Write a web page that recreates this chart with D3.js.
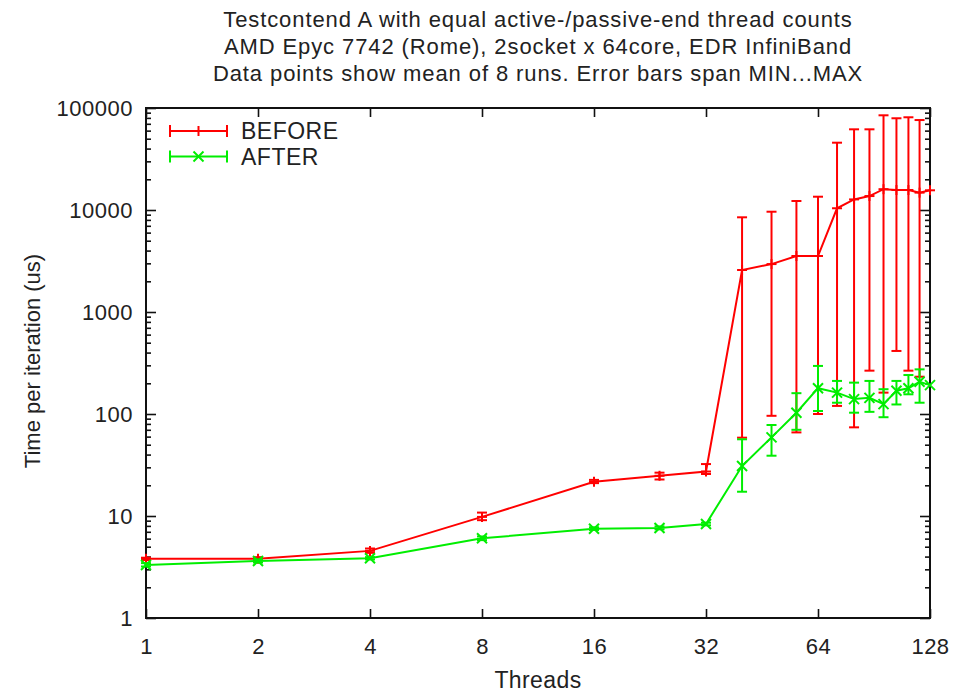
<!DOCTYPE html>
<html>
<head>
<meta charset="utf-8">
<script src="https://cdn.jsdelivr.net/npm/d3@7"></script>
<style>
  html, body { margin: 0; padding: 0; background: #fff; }
  svg text { font-family: "Liberation Sans", Arial, sans-serif; fill: #222; }
</style>
</head>
<body>
<svg id="chart" width="962" height="693"></svg>
<script>
// thread counts on the x axis
const threads = [1, 2, 4, 8, 16, 24, 32, 40, 48, 56, 64, 72, 80, 88, 96, 104, 112, 120, 128];

// BEFORE: mean, min, max (us)
const beforeMean = [3.8, 3.8, 4.55, 9.8, 21.7, 24.8, 27.3, 2580, 2950, 3540, 3540, 10400, 12700, 13700, 16000, 15700, 15700, 14800, 15600];
const beforeMin  = [3.7, 3.7, 4.35, 9.1, 21.0, 22.8, 25.8, 58.6, 96, 66, 100, 120, 74, 266, 162, 415, 266, 232, null];
const beforeMax  = [3.9, 3.95, 4.8, 10.8, 22.6, 26.6, 32.3, 8480, 9620, 12250, 13500, 45700, 61800, 61800, 84800, 79300, 81100, 76200, null];

// AFTER: mean, min, max (us)
const afterMean = [3.31, 3.62, 3.85, 6.05, 7.5, 7.63, 8.35, 30.9, 59, 103, 179, 162, 140, 144, 125, 169, 179, 207, 192];
const afterMin  = [3.2, 3.5, 3.75, 5.8, 7.3, 7.4, 8.1, 17.3, 39, 70, 107, 129, 103, 105, 93, 124, 156, 129, null];
const afterMax  = [3.45, 3.75, 3.95, 6.3, 7.75, 7.9, 8.6, 56.5, 78, 160, 296, 211, 203, 211, 175, 211, 241, 274, null];

const titleLines = [
  "Testcontend A with equal active-/passive-end thread counts",
  "AMD Epyc 7742 (Rome), 2socket x 64core, EDR InfiniBand",
  "Data points show mean of 8 runs. Error bars span MIN...MAX"
];
const xTicks = [1, 2, 4, 8, 16, 32, 64, 128];
const yTicks = [1, 10, 100, 1000, 10000, 100000];

const svg = d3.select("#chart");
const plotL = 146, plotR = 930, plotT = 108, plotB = 618;

const x = d3.scaleLog().base(2).domain([1, 128]).range([plotL, plotR]);
const y = d3.scaleLog().domain([1, 100000]).range([plotB, plotT]);

// minor ticks on the log y axis
const yMinor = [];
for (let e = 0; e < 5; e++) {
  for (let m = 2; m <= 9; m++) yMinor.push(m * Math.pow(10, e));
}

// title
svg.append("g").selectAll("text").data(titleLines).join("text")
  .attr("x", 538).attr("y", (d, i) => 27 + i * 27)
  .attr("text-anchor", "middle").attr("font-size", 22)
  .attr("letter-spacing", 0.9)
  .text(d => d);

// axes (ticks inward, mirrored)
function styleAxis(g) {
  g.selectAll("path.domain").remove();
  g.selectAll("line").attr("stroke", "#111").attr("stroke-width", 1.6);
  g.selectAll("text").attr("font-size", 22).attr("letter-spacing", 0.5).attr("fill", "#222")
    .style("font-family", "Liberation Sans, Arial, sans-serif");
}

svg.append("g").attr("transform", `translate(0,${plotB})`)
  .call(d3.axisBottom(x).tickValues(xTicks).tickFormat(d3.format("d")).tickSizeInner(-9).tickSizeOuter(0).tickPadding(20))
  .call(styleAxis);
svg.append("g").attr("transform", `translate(0,${plotT})`)
  .call(d3.axisTop(x).tickValues(xTicks).tickFormat("").tickSizeInner(-9).tickSizeOuter(0))
  .call(styleAxis);
svg.append("g").attr("transform", `translate(${plotL},0)`)
  .call(d3.axisLeft(y).tickValues(yTicks).tickFormat(d3.format("d")).tickSizeInner(-10).tickSizeOuter(0).tickPadding(13))
  .call(styleAxis);
svg.append("g").attr("transform", `translate(${plotL},0)`)
  .call(d3.axisLeft(y).tickValues(yMinor).tickFormat("").tickSizeInner(-5).tickSizeOuter(0))
  .call(styleAxis);
svg.append("g").attr("transform", `translate(${plotR},0)`)
  .call(d3.axisRight(y).tickValues(yTicks).tickFormat("").tickSizeInner(-10).tickSizeOuter(0))
  .call(styleAxis);
svg.append("g").attr("transform", `translate(${plotR},0)`)
  .call(d3.axisRight(y).tickValues(yMinor).tickFormat("").tickSizeInner(-5).tickSizeOuter(0))
  .call(styleAxis);

// frame
svg.append("rect").attr("x", plotL).attr("y", plotT)
  .attr("width", plotR - plotL).attr("height", plotB - plotT)
  .attr("fill", "none").attr("stroke", "#111").attr("stroke-width", 2);

// axis titles
svg.append("text").attr("x", 538).attr("y", 688).attr("text-anchor", "middle")
  .attr("font-size", 23).attr("letter-spacing", 0.4).text("Threads");
svg.append("text").attr("transform", `translate(40,361) rotate(-90)`)
  .attr("text-anchor", "middle").attr("font-size", 22).text("Time per iteration (us)");

// series
const series = [
  { name: "BEFORE", color: "#ff0000", mean: beforeMean, min: beforeMin, max: beforeMax, marker: "plus" },
  { name: "AFTER", color: "#00ee00", mean: afterMean, min: afterMin, max: afterMax, marker: "cross" }
];

const capW = 5;
function drawMarker(g, type, cx, cy, color) {
  const s = 5;
  if (type === "plus") {
    g.append("line").attr("x1", cx - s).attr("x2", cx + s).attr("y1", cy).attr("y2", cy);
    g.append("line").attr("x1", cx).attr("x2", cx).attr("y1", cy - s).attr("y2", cy + s);
  } else {
    g.append("line").attr("x1", cx - s).attr("x2", cx + s).attr("y1", cy - s).attr("y2", cy + s);
    g.append("line").attr("x1", cx - s).attr("x2", cx + s).attr("y1", cy + s).attr("y2", cy - s);
  }
  g.selectAll("line").attr("stroke", color).attr("stroke-width", 2);
}

const plot = svg.append("g");
const line = d3.line().x(d => x(d[0])).y(d => y(d[1]));

series.forEach(s => {
  const g = plot.append("g");
  const pts = threads.map((t, i) => ({ t, m: s.mean[i], lo: s.min[i], hi: s.max[i] }));
  // error bars
  pts.filter(p => p.lo != null).forEach(p => {
    const eg = g.append("g").attr("stroke", s.color).attr("stroke-width", 2);
    eg.append("line").attr("x1", x(p.t)).attr("x2", x(p.t)).attr("y1", y(p.lo)).attr("y2", y(p.hi));
    eg.append("line").attr("x1", x(p.t) - capW).attr("x2", x(p.t) + capW).attr("y1", y(p.lo)).attr("y2", y(p.lo));
    eg.append("line").attr("x1", x(p.t) - capW).attr("x2", x(p.t) + capW).attr("y1", y(p.hi)).attr("y2", y(p.hi));
  });
  g.append("path").datum(threads.map((t, i) => [t, s.mean[i]]))
    .attr("d", line).attr("fill", "none").attr("stroke", s.color).attr("stroke-width", 2);
  pts.forEach(p => drawMarker(g.append("g"), s.marker, x(p.t), y(p.m), s.color));
});

// legend
const legend = svg.append("g");
series.forEach((s, i) => {
  const ly = 131 + i * 25.5;
  const lg = legend.append("g");
  lg.append("line").attr("x1", 170).attr("x2", 227).attr("y1", ly).attr("y2", ly);
  lg.append("line").attr("x1", 170).attr("x2", 170).attr("y1", ly - 6).attr("y2", ly + 6);
  lg.append("line").attr("x1", 227).attr("x2", 227).attr("y1", ly - 6).attr("y2", ly + 6);
  lg.selectAll("line").attr("stroke", s.color).attr("stroke-width", 2);
  drawMarker(lg.append("g"), s.marker, 198.5, ly, s.color);
  legend.append("text").attr("x", 241).attr("y", ly + 8).attr("font-size", 23)
    .attr("letter-spacing", 0.5).text(s.name);
});
</script>
</body>
</html>
